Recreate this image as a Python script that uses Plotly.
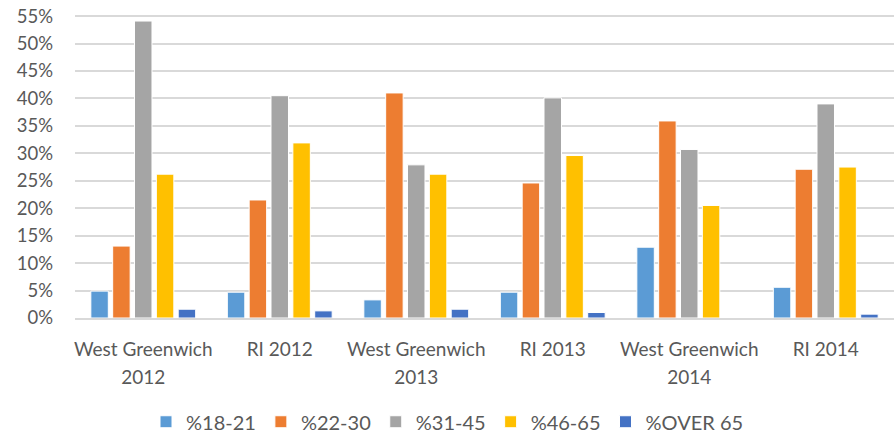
import plotly.graph_objects as go

categories = ["West Greenwich<br>2012", "RI 2012", "West Greenwich<br>2013", "RI 2013", "West Greenwich<br>2014", "RI 2014"]
series_names = ["%18-21", "%22-30", "%31-45", "%46-65", "%OVER 65"]
s18_21 = [4.9, 4.7, 3.3, 4.7, 12.9, 5.6]
s22_30 = [13.1, 21.5, 41.0, 24.6, 35.9, 27.1]
s31_45 = [54.1, 40.5, 27.9, 40.1, 30.7, 39.0]
s46_65 = [26.2, 31.9, 26.2, 29.6, 20.5, 27.5]
s_over65 = [1.6, 1.3, 1.6, 1.0, 0.0, 0.7]
y_ticks = [0, 5, 10, 15, 20, 25, 30, 35, 40, 45, 50, 55]

colors = ["#5B9BD5", "#ED7D31", "#A5A5A5", "#FFC000", "#4472C4"]
font = "Lato"

cat_text = ["<br>".join(f"<span style='font-size:19px'>{p}</span>" for p in c.split("<br>"))
            for c in categories]

fig = go.Figure()
for name, vals, c in zip(series_names, [s18_21, s22_30, s31_45, s46_65, s_over65], colors):
    fig.add_trace(go.Bar(x=categories, y=vals, name=name,
                         marker=dict(color=c, line=dict(color="white", width=1))))

fig.update_layout(
    width=895, height=433,
    margin=dict(l=75, r=1, t=15, b=115),
    paper_bgcolor="white", plot_bgcolor="white",
    barmode="group", bargap=0.2, bargroupgap=0.2,
    font=dict(family=font, color="#595959", size=21),
    legend=dict(orientation="h", xref="container", x=0.5, xanchor="center",
                yref="container", y=0.026, yanchor="middle",
                font=dict(size=20, color="#595959"), traceorder="normal", itemwidth=30),
    xaxis=dict(showgrid=False, showline=True, linecolor="#D9D9D9", linewidth=2,
               tickvals=categories, ticktext=cat_text,
               tickfont=dict(size=21.5), ticks="", automargin=False, ticklabelstandoff=10),
    yaxis=dict(range=[0, 55.2], tickvals=y_ticks, ticktext=[f"{v}%" for v in y_ticks],
               showgrid=True, gridcolor="#D9D9D9", gridwidth=1.5, zeroline=False,
               showline=False, tickfont=dict(size=18.5), ticks="", automargin=False,
               ticklabelstandoff=21),
)

fig.write_html("out.html", config={"displayModeBar": False},
               post_script="document.body.style.margin='0';document.body.style.overflow='hidden';")
